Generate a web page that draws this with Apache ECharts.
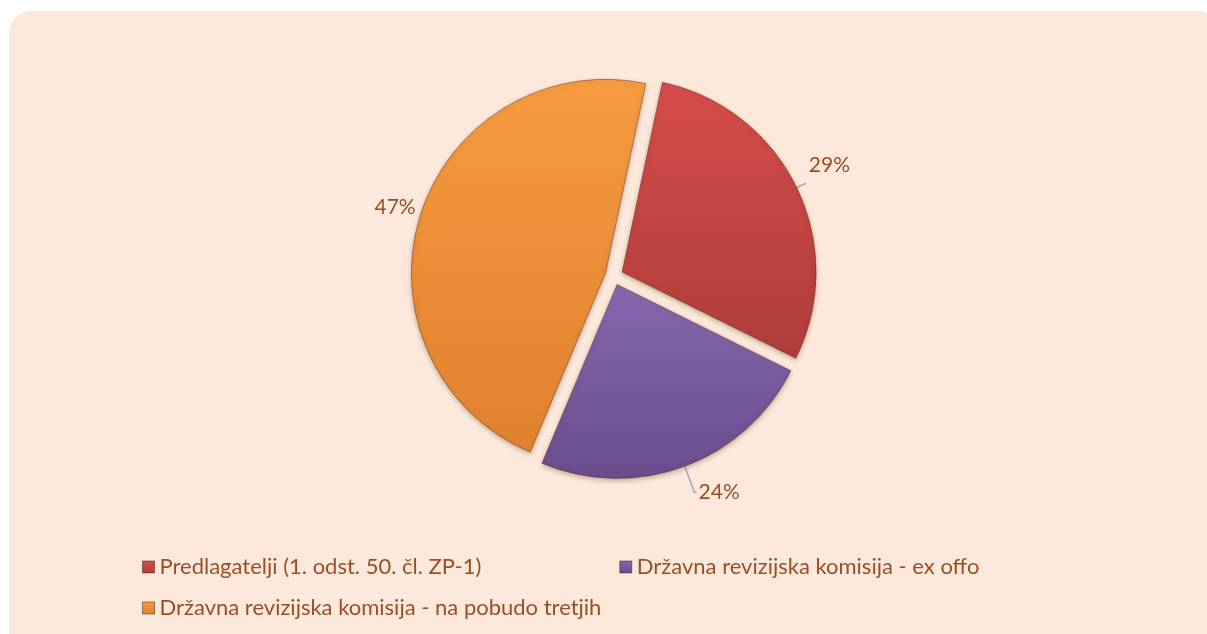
<!DOCTYPE html>
<html>
<head>
<meta charset="utf-8">
<script src="https://cdn.jsdelivr.net/npm/echarts@6/dist/echarts.min.js"></script>
<style>
    html, body { margin: 0; padding: 0; background: #ffffff; }
    #chart { width: 1207px; height: 634px; }
</style>
</head>
<body>
<div id="chart"></div>
<script>
// podatki
var categories = ['Predlagatelji (1. odst. 50. čl. ZP-1)', 'Državna revizijska komisija - ex offo', 'Državna revizijska komisija - na pobudo tretjih'];
var values = [29, 24, 47];
var percentLabels = ['29%', '24%', '47%'];

var textColor = '#9A4E26';
// barve rezin: zgoraj svetlejše, spodaj temnejše
var sliceColors = [
    ['#D64D4A', '#AE3D3A'],
    ['#8768B1', '#694D8C'],
    ['#F69B41', '#E0812E']
];
// dolžine povezovalnih črt (length, length2)
var lineLens = [[10, 0], [28, 2], [8, 0]];

function grad(c) {
    return new echarts.graphic.LinearGradient(0, 0, 0, 1, [
        { offset: 0, color: c[0] },
        { offset: 1, color: c[1] }
    ]);
}

var pieData = [];
for (var i = 0; i < categories.length; i++) {
    pieData.push({
        name: categories[i],
        value: values[i],
        selected: true,
        label: { formatter: percentLabels[i] },
        labelLine: { show: i !== 2, length: lineLens[i][0], length2: lineLens[i][1] },
        itemStyle: { color: grad(sliceColors[i]) }
    });
}

var legendText = { color: textColor, fontSize: 22, fontFamily: 'Lato', padding: [0, 0, 0, 0] };

var chart = echarts.init(document.getElementById('chart'));
var option = {
    backgroundColor: '#ffffff',
    animation: false,
    graphic: [{
        type: 'rect',
        z: -10,
        shape: { x: 9, y: 11, width: 1210, height: 660, r: 22 },
        style: { fill: '#FCE9DB' }
    }],
    legend: [{
        data: [categories[0], categories[1]],
        left: 137,
        top: 551,
        itemWidth: 12,
        itemHeight: 12,
        itemGap: 138,
        icon: 'rect',
        itemStyle: { borderColor: 'rgba(60,30,20,0.5)', borderWidth: 1 },
        textStyle: legendText,
        selectedMode: false
    }, {
        data: [categories[2]],
        left: 137,
        top: 592,
        itemWidth: 12,
        itemHeight: 12,
        icon: 'rect',
        itemStyle: { borderColor: 'rgba(60,30,20,0.5)', borderWidth: 1 },
        textStyle: legendText,
        selectedMode: false
    }],
    series: [{
        type: 'pie',
        center: [614, 276],
        radius: ['0%', 194],
        startAngle: 78,
        clockwise: true,
        selectedMode: 'multiple',
        selectedOffset: 9,
        data: pieData,
        itemStyle: {
            borderColor: 'rgba(90,40,20,0.45)',
            borderWidth: 1,
            shadowBlur: 5,
            shadowColor: 'rgba(90,50,20,0.35)',
            shadowOffsetY: 2
        },
        emphasis: { disabled: true },
        label: {
            show: true,
            position: 'outside',
            color: textColor,
            fontSize: 21,
            fontFamily: 'Lato'
        },
        labelLine: {
            show: true,
            lineStyle: { color: '#9AA8B4', width: 1.5 }
        },
        labelLayout: function (p) {
            if (p.dataIndex === 0) {
                return { dx: -2, dy: -18 };
            }
            if (p.dataIndex === 1) {
                return { dx: -3 };
            }
            if (p.dataIndex === 2) {
                return { dx: 8, dy: -6 };
            }
            return {};
        }
    }]
};
chart.setOption(option);
</script>
</body>
</html>
